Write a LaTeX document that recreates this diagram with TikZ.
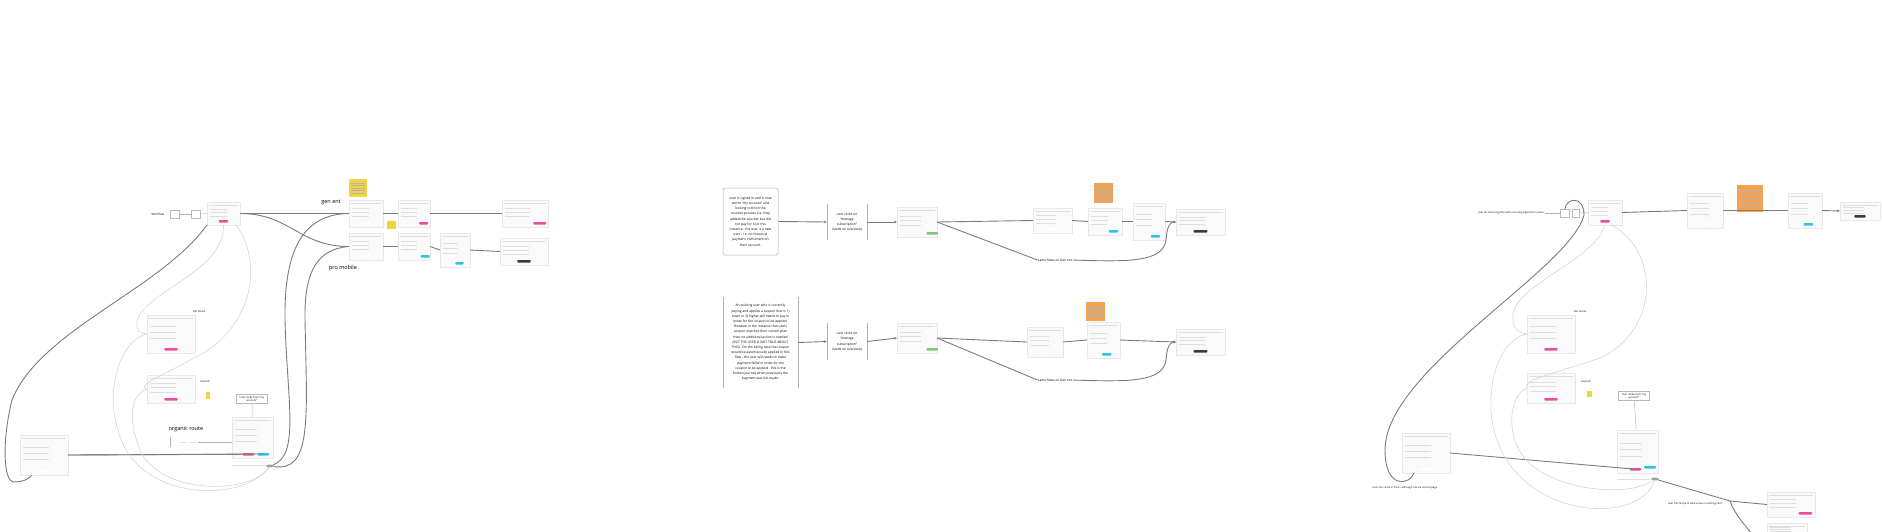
\documentclass[tikz,border=0pt]{standalone}
\usepackage{fontspec}
\setmainfont{Open Sans}
\usetikzlibrary{positioning,calc,arrows.meta,shapes.geometric}
\definecolor{pinkbtn}{HTML}{EC4E9C}
\definecolor{cyanbtn}{HTML}{2CC3E6}
\definecolor{darkbtn}{HTML}{3A3A3A}
\definecolor{okgreen}{HTML}{7CC67C}
\definecolor{stickyyel}{HTML}{F2D43C}
\definecolor{stickyora}{HTML}{F7A04E}
\definecolor{linegray}{HTML}{7C7C7C}
\definecolor{softgray}{HTML}{D4D4D4}

% one screen mock-up: name, left, top, width, height, button colour, button position
\newcommand\mock[7]{%
  \node[shot,minimum width=#4pt,minimum height=#5pt] (#1) at ({#2+#4/2},{#3+#5/2}) {};
  \draw[rule] ({#2+2},{#3+3}) -- ({#2+#4-2},{#3+3});
  \foreach \q in {0.3,0.45,0.6}{\draw[rule] ({#2+3},{#3+\q*#5}) -- ({#2+0.6*#4},{#3+\q*#5});}
  \fill[#6,rounded corners=0.8pt] ({#2+#7*#4-0.14*#4},{#3+#5-5}) rectangle ({#2+#7*#4+0.14*#4},{#3+#5-2.5});
  \coordinate (#1-btn) at ({#2+#7*#4},{#3+#5-3.75});
}

\begin{document}
\begin{tikzpicture}[x=1pt,y=-1pt,
  shot/.style={draw=gray!18,fill=gray!4,line width=0.3pt,inner sep=0,outer sep=0},
  rule/.style={draw=gray!25,line width=0.6pt},
  flow/.style={draw=linegray,line width=0.9pt},
  arr/.style={flow,-{Stealth[length=3pt,width=2.6pt]}},
  soft/.style={draw=softgray,line width=0.6pt},
  thinline/.style={draw=gray!60,line width=0.5pt},
  bar/.style={draw=gray!60,line width=0.5pt},
  lbl/.style={font=\fontsize{2.6}{3.2}\selectfont,inner sep=0.3pt},
  big/.style={font=\fontsize{5.5}{6.5}\selectfont,inner sep=0},
  note/.style={font=\fontsize{3.3}{5.2}\selectfont,align=center,inner sep=1pt},
  askbox/.style={draw=gray!55,line width=0.4pt,font=\fontsize{2.6}{3.4}\selectfont,align=center,minimum width=31pt,minimum height=9pt,inner sep=0.5pt},
  tag/.style={draw=gray!55,line width=0.35pt,minimum width=9pt,minimum height=8pt,inner sep=0},
  hub/.style={ellipse,fill=gray!75,minimum width=8pt,minimum height=3pt,inner sep=0},
  sticky/.style={inner sep=0,path picture={\foreach \q in {0.22,0.36,0.5,0.64,0.78}{\draw[black!30,line width=0.45pt,shorten <=2pt,shorten >=2pt] ($(path picture bounding box.north west)!\q!(path picture bounding box.south west)$) -- ($(path picture bounding box.north east)!\q!(path picture bounding box.south east)$);}}}
]
\useasboundingbox (0,0) rectangle (1882,531);

% ---------------- left board
\node[lbl,font=\fontsize{3}{3.5}\selectfont] (winlbl) at (158,214) {WIN flow};
\node[tag] (wina) at (175,214) {};
\node[tag] (winb) at (196,214) {};
\mock{win}{207}{202}{33}{23}{pinkbtn}{0.5}
\draw[thinline] (wina) -- (winb);
\draw[thinline] (winb) -- (win);

\node[sticky,fill=stickyyel,minimum size=18pt] (memoA) at (358,188) {};
\node[big] (genlbl) at (331,202) {gen ent};
\node[big] (prolbl) at (343,268) {pro mobile};
\mock{genA}{349}{200}{34}{27}{white}{0.5}
\mock{genB}{398}{200}{32}{27}{pinkbtn}{0.8}
\mock{genC}{502}{200}{46}{27}{pinkbtn}{0.82}
\node[fill=stickyyel,minimum width=9pt,minimum height=8pt,inner sep=0] (memoB) at (391.5,225) {};
\mock{proA}{349}{233}{34}{27}{white}{0.5}
\mock{proB}{398}{233}{32}{27}{cyanbtn}{0.85}
\mock{proC}{440}{233}{30}{34}{cyanbtn}{0.65}
\mock{proD}{500}{238}{48}{27}{darkbtn}{0.5}

\draw[flow] (win.east) -- (genA.west);
\draw[flow] (win.east) .. controls +(50,0) and +(-50,0) .. (proA.west);
\draw[flow] (genA.east) -- (genB.west);
\draw[flow] (genB.east) -- (genC.west);
\draw[flow] (proA.east) -- (proB.west);
\draw[flow] (proB.east) -- (proC.west);
\draw[flow] (proC.east) -- (proD.west);

\node[lbl] (nflbl) at (199,312) {Not found};
\mock{notfound}{147}{315}{48}{38}{pinkbtn}{0.5}
\node[lbl] (exlbl) at (205,382) {Expired};
\mock{expired}{147}{375}{48}{28}{pinkbtn}{0.5}
\node[fill=stickyyel,minimum width=4pt,minimum height=7pt,inner sep=0] (memoC) at (208,395.5) {};

\node[askbox] (askL) at (252,399) {User clicks from “my\\account”};
\mock{plans}{232}{417}{41}{41}{pinkbtn}{0.4}
\fill[cyanbtn,rounded corners=0.8pt] (257.5,453) rectangle (269,455.5);
\draw[rule] (232,465) -- (266,465);
\node[hub] (hubL) at (270,466) {};
\draw[thinline] (askL) -- (plans);

\node[big] (organic) at (186,429) {organic route};
\draw[bar] (170,437) -- (170,447);
\draw[rule] (180,442) -- (186,442);
\draw[rule] (190,442) -- (195,442);
\coordinate (orgstart) at (198,442);
\draw[thinline] (orgstart) -- (orgstart -| plans.west);

\mock{account}{20}{435}{48}{40}{white}{0.5}
\draw[flow] (account.east) -- (plans-btn);
\draw[flow] (account.east) -- (263,454);

% curves
\draw[flow] (win.south west) .. controls (160,290) and (40,330) .. (12,400) .. controls (2,440) and (3,482) .. (14,482) .. controls (24,482) and (30,478) .. ([xshift=12pt]account.south west);
\draw[soft] (win.south) .. controls (225,270) and (150,290) .. (138,318) .. controls (134,330) and (140,334) .. (notfound.west);
\draw[soft] ([xshift=-4pt]win.south east) .. controls (262,260) and (255,320) .. (205,352) .. controls (165,375) and (135,385) .. (expired.west);
\draw[soft] (notfound.west) .. controls (120,340) and (105,390) .. (118,430) .. controls (135,500) and (240,505) .. (hubL);
\draw[soft] (expired.west) .. controls (130,395) and (128,420) .. (140,450) .. controls (160,495) and (250,495) .. (hubL);
\draw[flow] (genA.west) .. controls (300,214) and (284,255) .. (285,320) .. controls (287,400) and (300,455) .. (hubL);
\draw[flow] (proA.west) .. controls (318,249) and (304,270) .. (305,320) .. controls (307,420) and (312,472) .. (hubL);

% ---------------- middle board
\node[note,draw=gray!65,line width=0.5pt,rounded corners=1.5pt,minimum width=55pt,minimum height=67pt] (signed) at (750.5,221.5)
  {user is signed in and is now\\within “my account” and\\looking to finish the\\voucher process (i.e. they\\added the voucher but did\\not pay for it) in this\\instance - the user is a new\\user - i.e. no historical\\payment instrument on\\their account.};
\node[note,minimum width=40pt,minimum height=35pt] (manageA) at (847,222)
  {user clicks on\\“manage\\subscription”\\(lands on overview)};
\draw[bar] (manageA.north west) -- (manageA.south west);
\draw[bar] (manageA.north east) -- (manageA.south east);
\mock{overA}{897}{207}{40}{30}{okgreen}{0.88}
\mock{stepA}{1033}{208}{39}{25}{white}{0.5}
\node[sticky,fill=stickyora,minimum width=19pt,minimum height=20pt] (memoD) at (1103.5,193) {};
\mock{stepB}{1088}{208}{34}{27}{cyanbtn}{0.75}
\mock{stepC}{1133}{203}{32}{37}{cyanbtn}{0.7}
\mock{doneA}{1176}{209}{49}{26}{darkbtn}{0.5}
\node[lbl,font=\fontsize{3.2}{4}\selectfont] (sameA) at (1055,260) {same flows on Gen ent};

\draw[arr] (signed.east) -- (manageA.west);
\draw[arr] (manageA.east) -- (overA.west);
\draw[flow] (overA.east) -- (stepA.west);
\draw[flow] (stepA.east) -- (stepB.west);
\draw[flow] (stepB.east) -- (stepC.west);
\draw[arr] (stepC.east) -- (doneA.west);
\draw[flow] (overA.east) -- (sameA.west);
\draw[arr] (sameA.east) .. controls (1130,262) and (1163,262) .. (1166,240) .. controls (1167,226) and (1170,222) .. (doneA.west);

\node[note,minimum width=75pt,minimum height=91pt] (existing) at (760.5,342.5)
  {An existing user who is currently\\paying and applies a coupon that is 1)\\lower or 2) higher will needs to pay in\\order for the coupon to be applied.\\However in the instance that users\\coupon matches their current plan\\then no additional action is needed\\(BUT THE USER IS NOT TOLD ABOUT\\THIS) . On the billing date the coupon\\would be automatically applied in this\\flow - the user will needs to make\\payment NOW in order for the\\coupon to be applied - this is the\\broken journey when previously the\\payment was not made.};
\draw[bar] (existing.north west) -- (existing.south west);
\draw[bar] (existing.north east) -- (existing.south east);
\node[note,minimum width=40pt,minimum height=37pt] (manageB) at (847,341.5)
  {user clicks on\\“manage\\subscription”\\(lands on overview)};
\draw[bar] (manageB.north west) -- (manageB.south west);
\draw[bar] (manageB.north east) -- (manageB.south east);
\mock{overB}{897}{323}{40}{30}{okgreen}{0.88}
\mock{stepD}{1027}{327}{36}{30}{white}{0.5}
\mock{stepE}{1087}{322}{33}{36}{cyanbtn}{0.6}
\node[sticky,fill=stickyora,minimum width=19pt,minimum height=19pt] (memoE) at (1095.5,311.5) {};
\mock{doneB}{1176}{329}{49}{26}{darkbtn}{0.5}
\node[lbl,font=\fontsize{3.2}{4}\selectfont] (sameB) at (1055,380) {same flows on Gen ent};

\draw[arr] (existing.east) -- (manageB.west);
\draw[arr] (manageB.east) -- (overB.west);
\draw[flow] (overB.east) -- (stepD.west);
\draw[flow] (stepD.east) -- (stepE.west);
\draw[arr] (stepE.east) -- (doneB.west);
\draw[flow] (overB.east) -- (sameB.west);
\draw[arr] (sameB.east) .. controls (1130,382) and (1163,382) .. (1166,360) .. controls (1167,346) and (1170,342) .. (doneB.west);

% ---------------- right board
\node[lbl] (recurtxt) at (1511,213) {user on recurring plan with recurring payment in place};
\node[tag] (rtagA) at (1565,213) {};
\node[tag,minimum width=7pt] (rtagB) at (1576,213) {};
\mock{recurA}{1588}{200}{34}{25}{pinkbtn}{0.5}
\mock{recurB}{1687}{193}{36}{35}{white}{0.5}
\node[sticky,fill=stickyora,minimum width=26pt,minimum height=27pt] (memoF) at (1750,198.5) {};
\mock{recurC}{1788}{193}{34}{35}{cyanbtn}{0.6}
\mock{recurD}{1840}{202}{40}{18}{darkbtn}{0.5}
\draw[thinline] (recurtxt) -- (rtagA);
\draw[thinline] (rtagB) -- (recurA);
\draw[flow] (recurA.east) -- (recurB.west);
\draw[flow] (recurB.east) -- (recurC.west);
\draw[arr] (recurC.east) -- (recurD.west);

\node[lbl] (nflblR) at (1580,312) {Not found};
\mock{notfoundR}{1527}{315}{48}{38}{pinkbtn}{0.5}
\node[lbl] (exlblR) at (1586,382) {Expired};
\mock{expiredR}{1527}{373}{48}{30}{pinkbtn}{0.5}
\node[fill=stickyyel,minimum width=5pt,minimum height=6pt,inner sep=0] (memoG) at (1589.5,394) {};

\node[askbox] (askR) at (1634,396) {User clicks from “my\\account”};
\mock{plansR}{1617}{430}{41}{43}{pinkbtn}{0.45}
\fill[cyanbtn,rounded corners=0.8pt] (1644,466) rectangle (1656,468.5);
\draw[rule] (1617,479) -- (1650,479);
\node[hub] (hubR) at (1655,479) {};
\draw[thinline] (askR) -- (plansR);

\mock{accountR}{1402}{433}{48}{40}{white}{0.5}
\node[lbl] (comein) at (1405,488) {user can come in here - although not via second page};
\draw[flow] (accountR.east) -- (plansR-btn);

\mock{stripeA}{1767}{492}{48}{25}{pinkbtn}{0.8}
\mock{stripeB}{1767}{523}{40}{14}{white}{0.5}
\coordinate (fork) at (1730,501);
\node[lbl] (stripetxt) at (1695,504) {user hits Stripe to add a new or existing card};
\draw[flow] (hubR) -- (fork) -- (stripeA.west);
\draw[flow] (fork) .. controls (1735,515) and (1745,525) .. (1752,534);

% curves
\draw[flow] (rtagA.north) .. controls (1566,198) and (1584,195) .. (1584,215) .. controls (1570,270) and (1385,370) .. (1385,450) .. controls (1385,490) and (1410,485) .. ([xshift=12pt]accountR.south west);
\draw[soft] (recurA.south) .. controls (1595,260) and (1515,285) .. (1513,315) .. controls (1512,328) and (1518,333) .. (notfoundR.west);
\draw[soft] ([xshift=6pt]recurA.south) .. controls (1660,250) and (1660,330) .. (1600,358) .. controls (1560,372) and (1520,380) .. (expiredR.west);
\draw[soft] (notfoundR.west) .. controls (1495,340) and (1482,400) .. (1497,440) .. controls (1525,520) and (1640,525) .. (hubR);
\draw[soft] (expiredR.west) .. controls (1508,395) and (1505,440) .. (1528,462) .. controls (1560,492) and (1630,497) .. (hubR);
\end{tikzpicture}
\end{document}
